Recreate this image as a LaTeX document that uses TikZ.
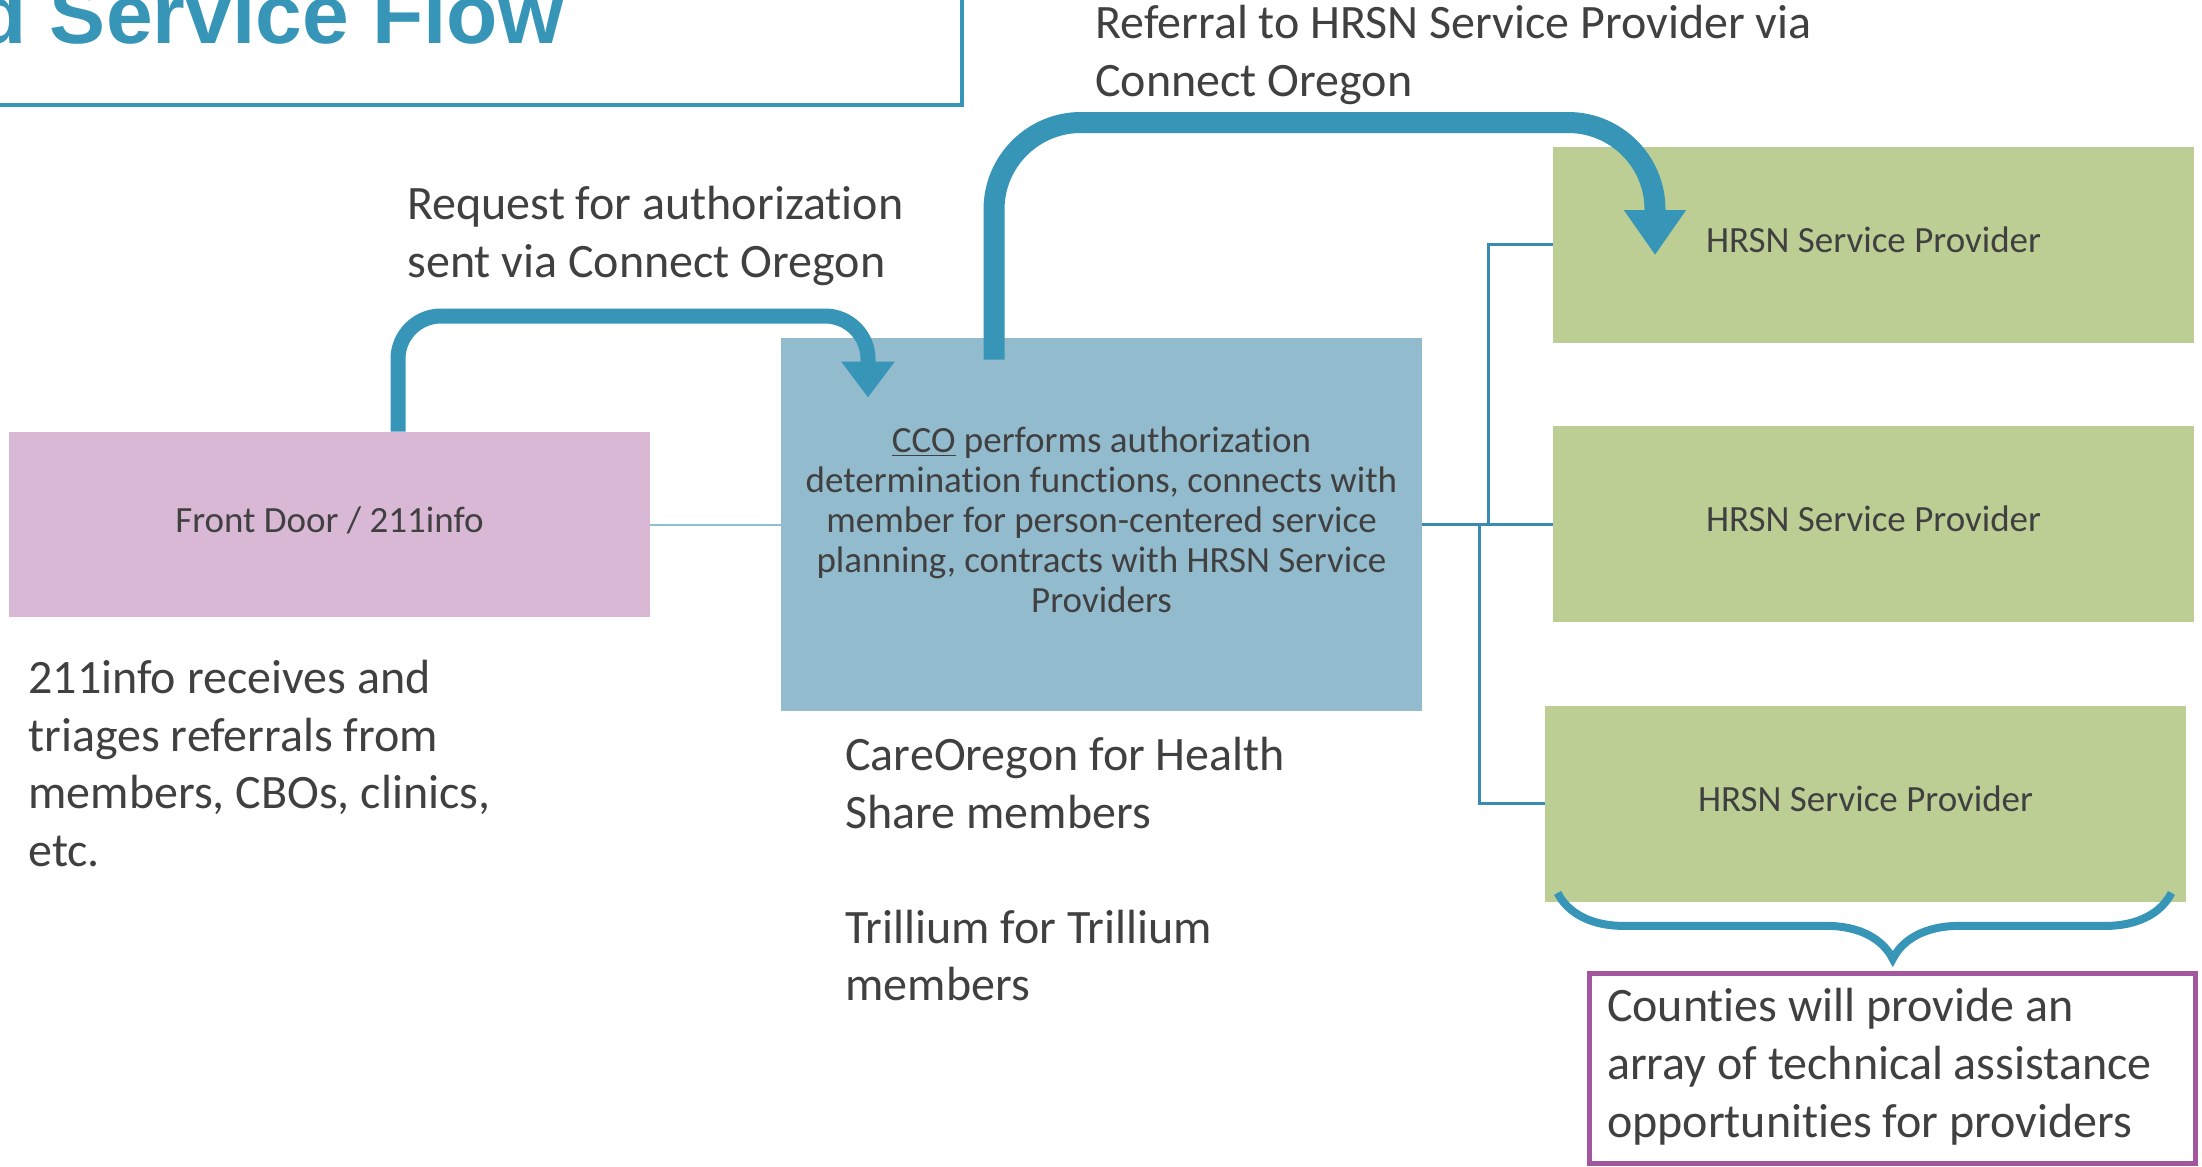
\documentclass[tikz,border=0pt]{standalone}
\usepackage{fontspec}
\setmainfont{Carlito}[RawFeature={-liga;-clig;-dlig;-hlig;-calt;-rlig}]
\newfontfamily\headfont{Liberation Sans}
\usetikzlibrary{arrows.meta, positioning, decorations.pathreplacing}

\definecolor{doorpink}{HTML}{D9B8D6}
\definecolor{ccoblue}{HTML}{93BBCE}
\definecolor{provgreen}{HTML}{BDCE95}
\definecolor{flowblue}{HTML}{3796B8}
\definecolor{linkblue}{HTML}{3A8BB0}
\definecolor{palelink}{HTML}{8DC0D3}
\definecolor{notepurple}{HTML}{A0579E}
\definecolor{inkgrey}{HTML}{404040}

\begin{document}
\begin{tikzpicture}[x=0.5pt, y=-0.5pt,
        every node/.style={text=inkgrey, inner sep=0pt},
        box/.style={minimum width=320.5pt, align=center, font=\fontsize{18.5}{20}\selectfont},
        door/.style={box, fill=doorpink, minimum height=92.5pt},
        cco/.style={box, fill=ccoblue, minimum height=186.5pt},
        provider/.style={box, fill=provgreen, minimum height=98pt},
        note/.style={anchor=north west, align=flush left, font=\fontsize{24}{28.8}\selectfont},
        county/.style={note, anchor=center, draw=notepurple, line width=2.5pt, fill=white,
            text width=285pt, inner xsep=9pt, minimum height=95pt},
        flow/.style={draw=flowblue},
        link/.style={draw=linkblue, line width=1.25pt},
        curly/.style={draw=flowblue, line width=4pt, decorate,
            decoration={brace, mirror, amplitude=33pt, aspect=0.546}}]
    \useasboundingbox (0,0) rectangle (2202,1167);

    % title, cut by the page
    \draw[flowblue, line width=2pt] (-20,-20) rectangle (962,105);
    \node[anchor=base east, text=flowblue, font=\headfont\bfseries\fontsize{42}{48}\selectfont] (title) at (564,43) {d Service Flow};

    \node[door] (door) at (329.5,524.5) {\strut Front Door / 211info};
    \node[cco] (cco) at (1101.5,524.5) {\strut\underline{CCO} performs authorization\\determination functions, connects with\\member for person-centered service\\planning, contracts with HRSN Service\\Providers\strut};
    \node[provider] (prov1) at (1873.5,244.5) {\strut HRSN Service Provider};
    \node[provider] (prov2) at (1873.5,523.5) {\strut HRSN Service Provider};
    \node[provider] (prov3) at (1865.5,803.5) {\strut HRSN Service Provider};

    \node[note] (referral) at (1095,-2.3) {\strut Referral to HRSN Service Provider via\\Connect Oregon};
    \node[note] (request) at (407,178.7) {\strut Request for authorization\\sent via Connect Oregon};
    \node[note] (triage) at (28,652.7) {\strut 211info receives and\\triages referrals from\\members, CBOs, clinics,\\etc.};
    \node[note] (plans) at (845,729.7) {\strut CareOregon for Health\\Share members\\[28.8pt]Trillium for Trillium\\members};
    \node[county] (county) at (1892,1068) {\strut Counties will provide an\\array of technical assistance\\opportunities for providers\strut};

    % connectors
    \draw[palelink, line width=1pt] (door.east) -- (cco.west);
    \draw[link] (cco.east) -- ++(33pt,0) |- (prov1.west);
    \draw[link] (cco.east) -- (cco.east -| prov2.west);
    \draw[link] ([xshift=28.5pt]cco.east) |- (prov3.west);

    % big arrows
    \draw[flow, line width=7.5pt, rounded corners=21.5pt, -{Triangle[width=25.5pt, length=18pt]}]
        ([xshift=34.25pt]door.north) |- (868,316) -- ([xshift=-116.75pt, yshift=-30pt]cco.north);
    \draw[flow, line width=10.5pt, rounded corners=43.5pt, -{Triangle[width=29.5pt, length=22.5pt]}]
        ([xshift=-53.75pt, yshift=-11pt]cco.north) |- (1655,122.5) -- ([xshift=-109.25pt, yshift=-54.5pt]prov1.north);

    \draw[curly] ([xshift=6.5pt, yshift=4.5pt]prov3.south west) -- ([xshift=-7.5pt, yshift=4.5pt]prov3.south east);
\end{tikzpicture}
\end{document}
